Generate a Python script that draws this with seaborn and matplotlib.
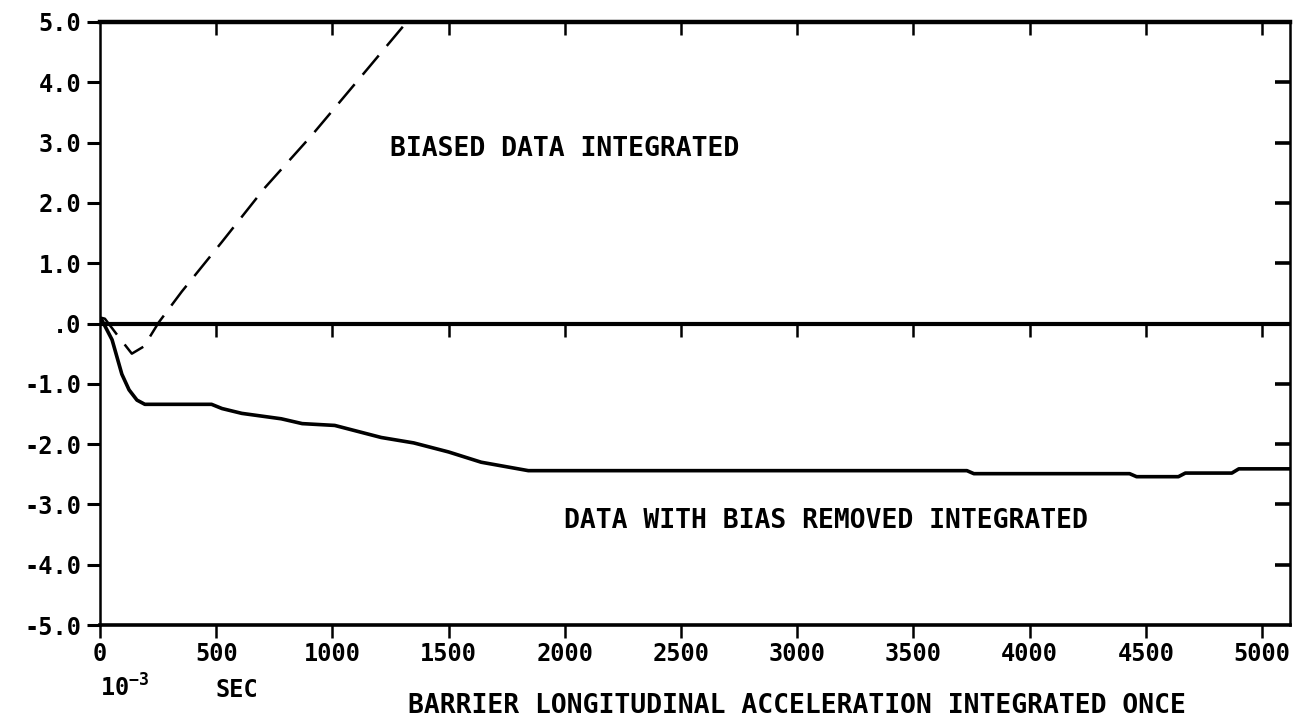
import matplotlib
matplotlib.use("Agg")
import matplotlib.pyplot as plt
import seaborn as sns
import pandas as pd

# Time in 10^-3 sec, integrated barrier acceleration
biased_t = [0, 21, 80, 137, 150, 189, 253, 352, 524, 709, 911, 1155, 1320]
biased_v = [0.10, 0.08, -0.22, -0.50, -0.47, -0.38, 0.02, 0.53, 1.35, 2.25, 3.12, 4.24, 5.0]

unbiased_t = [0, 9, 52, 94, 125, 159, 193, 480, 525, 610, 780, 870, 1010, 1210,
              1350, 1470, 1500, 1640, 1843, 3730, 3760, 4430, 4460, 4640, 4670,
              4870, 4900, 5120]
unbiased_v = [0.08, 0.05, -0.27, -0.84, -1.10, -1.27, -1.34, -1.34, -1.41, -1.49,
              -1.58, -1.66, -1.69, -1.89, -1.98, -2.10, -2.13, -2.30, -2.44, -2.44,
              -2.49, -2.49, -2.54, -2.54, -2.48, -2.48, -2.41, -2.41]

x_ticks = [0, 500, 1000, 1500, 2000, 2500, 3000, 3500, 4000, 4500, 5000]
x_tick_labels = ["0", "500", "1000", "1500", "2000", "2500", "3000", "3500",
                 "4000", "4500", "5000"]
y_ticks = [5, 4, 3, 2, 1, 0, -1, -2, -3, -4, -5]
y_tick_labels = ["5.0", "4.0", "3.0", "2.0", "1.0", ".0", "-1.0", "-2.0",
                 "-3.0", "-4.0", "-5.0"]

X_MAX = 5120

sns.set_style("white")
plt.rcParams.update({
    "font.family": ["DejaVu Sans Mono", "DejaVu Sans"],
    "font.weight": "bold",
    "text.color": "black",
    "axes.labelcolor": "black",
    "xtick.color": "black",
    "ytick.color": "black",
    "mathtext.fontset": "custom",
    "mathtext.rm": "DejaVu Sans Mono:bold",
    "mathtext.bf": "DejaVu Sans Mono:bold",
    "mathtext.it": "DejaVu Sans Mono:bold",
})

fig = plt.figure(figsize=(13.14, 7.21), dpi=100)
ax = fig.add_axes([0.0761, 0.1331, 0.9056, 0.8364])

biased = pd.DataFrame({"t": biased_t, "v": biased_v})
unbiased = pd.DataFrame({"t": unbiased_t, "v": unbiased_v})

sns.lineplot(data=biased, x="t", y="v", ax=ax, color="black", linewidth=1.8,
             estimator=None, sort=False)
ax.lines[-1].set_dashes((10, 5))
sns.lineplot(data=unbiased, x="t", y="v", ax=ax, color="black", linewidth=2.6,
             estimator=None, sort=False)

ax.set_xlim(0, X_MAX)
ax.set_ylim(-5, 5)
ax.set_xlabel("")
ax.set_ylabel("")

# Frame
for side, lw in (("top", 3.2), ("bottom", 2.6), ("left", 1.8), ("right", 1.8)):
    ax.spines[side].set_visible(True)
    ax.spines[side].set_color("black")
    ax.spines[side].set_linewidth(lw)

# Outward ticks with labels on bottom and left
ax.set_xticks(x_ticks)
ax.set_xticklabels(x_tick_labels)
ax.set_yticks(y_ticks)
ax.set_yticklabels(y_tick_labels)
ax.tick_params(axis="x", bottom=True, top=False, direction="out",
               length=9.5, width=1.8, pad=3, labelsize=17)
ax.tick_params(axis="y", left=True, right=False, direction="out",
               length=9.5, width=2.2, pad=4, labelsize=17)

# Inward ticks on the top edge
tw_top = ax.twiny()
tw_top.set_xlim(0, X_MAX)
tw_top.set_xticks(x_ticks[1:])
tw_top.tick_params(axis="x", top=True, bottom=False, direction="in",
                   length=9.5, width=1.8, labeltop=False, labelbottom=False)
tw_top.grid(False)

# Inward ticks on the right edge
tw_right = ax.twinx()
tw_right.set_ylim(-5, 5)
tw_right.set_yticks(y_ticks[1:-1])
tw_right.tick_params(axis="y", right=True, left=False, direction="in",
                     length=11, width=2.6, labelright=False, labelleft=False)
tw_right.grid(False)
for t in (tw_top, tw_right):
    for s in t.spines.values():
        s.set_visible(False)

# Zero line with tick marks hanging below it
ax.axhline(0, color="black", linewidth=3.0)
zero_ax = ax.inset_axes([0, 0, X_MAX, 1e-6], transform=ax.transData)
zero_ax.patch.set_alpha(0)
zero_ax.set_xlim(0, X_MAX)
zero_ax.set_xticks(x_ticks[1:])
zero_ax.set_yticks([])
zero_ax.tick_params(axis="x", bottom=True, top=False, direction="out",
                    length=9.5, width=1.8, labelbottom=False)
for s in zero_ax.spines.values():
    s.set_visible(False)

ax.text(1997, 2.9, "BIASED DATA INTEGRATED", ha="center", va="center",
        fontsize=19, fontweight="bold")
ax.text(3123, -3.27, "DATA WITH BIAS REMOVED INTEGRATED", ha="center",
        va="center", fontsize=19, fontweight="bold")

fig.text(100 / 1314, 1 - 688 / 721, r"$10^{-3}$", ha="left", va="center",
         fontsize=17)
fig.text(237 / 1314, 1 - 690 / 721, "SEC", ha="center", va="center",
         fontsize=17, fontweight="bold")
fig.text(797 / 1314, 1 - 706 / 721,
         "BARRIER LONGITUDINAL ACCELERATION INTEGRATED ONCE",
         ha="center", va="center", fontsize=19, fontweight="bold")

fig.savefig("out.png", dpi=100, facecolor="white")
